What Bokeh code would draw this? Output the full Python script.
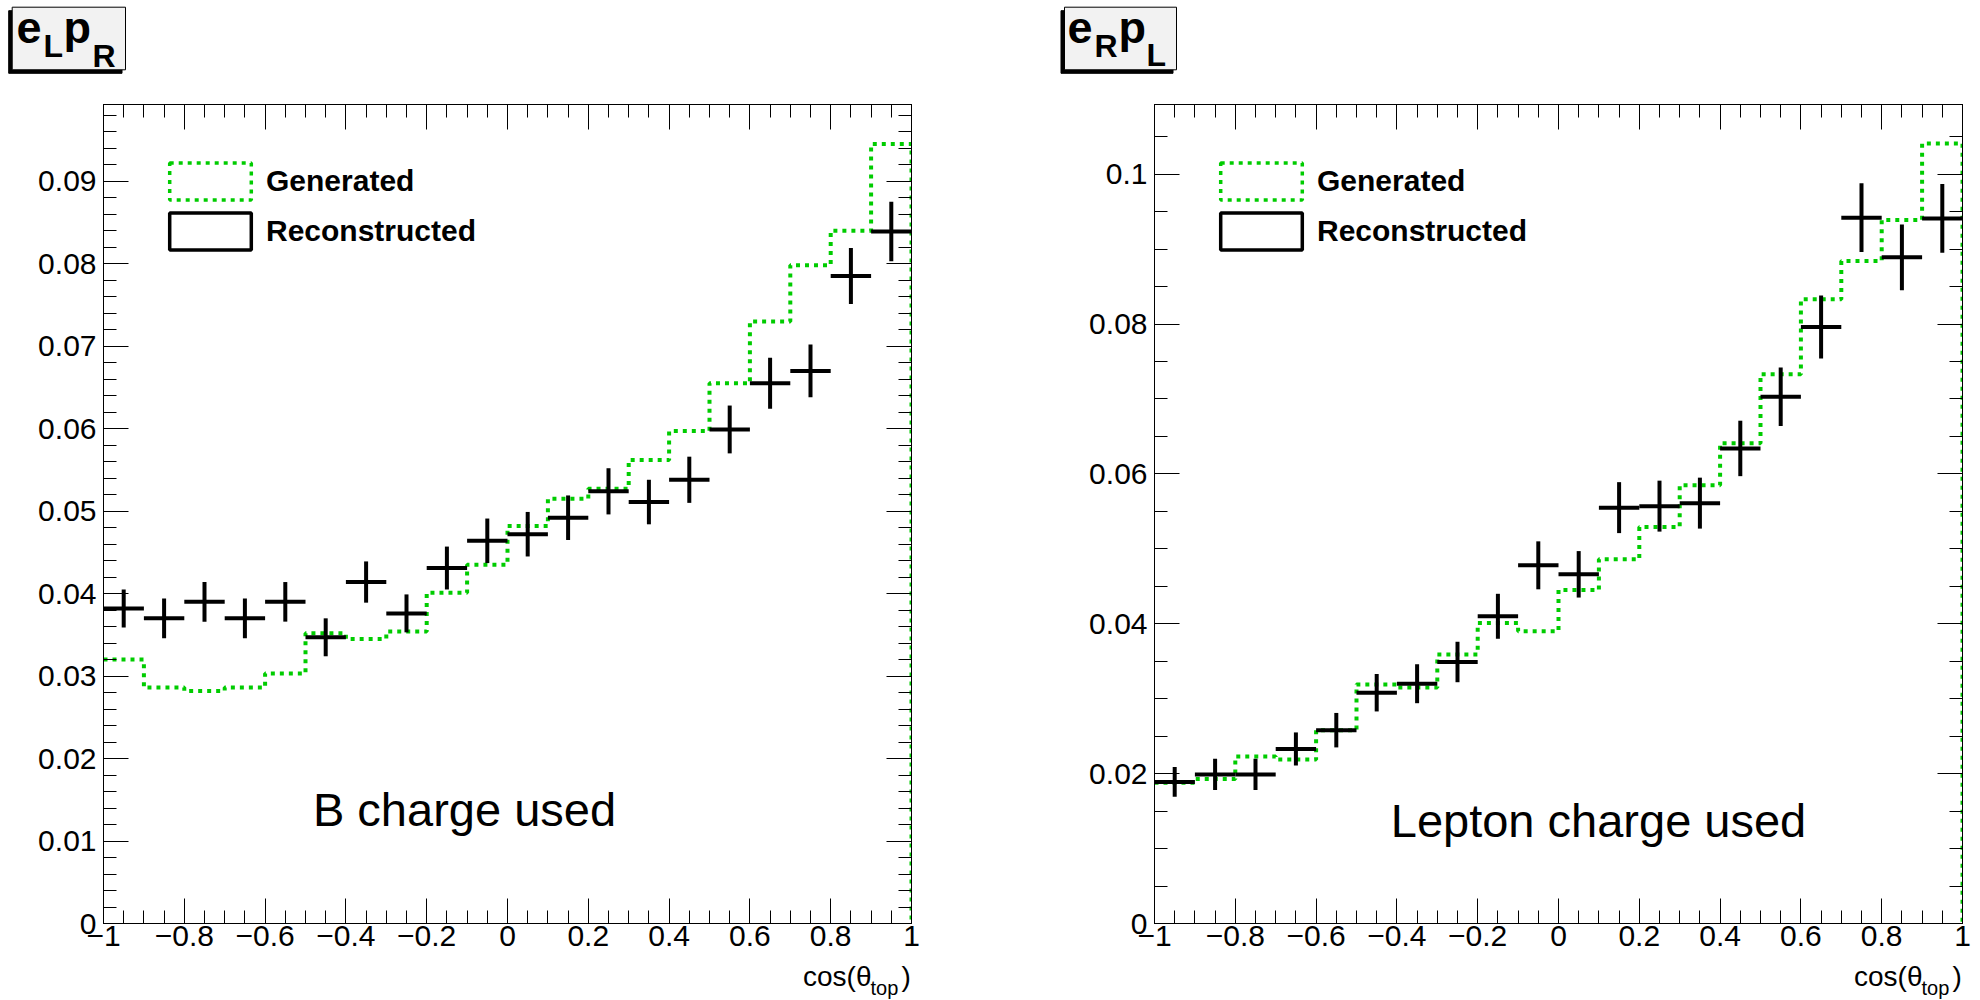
import numpy as np
from bokeh.plotting import figure
from bokeh.models import (Range1d, LinearAxis, FixedTicker, CustomJSTickFormatter, Label,
                          Legend, LegendItem, ColumnDataSource)
from bokeh.layouts import row, column
from bokeh.embed import file_html
from bokeh.resources import INLINE

# ---------------- data ----------------
bin_edges = [-1.0, -0.9, -0.8, -0.7, -0.6, -0.5, -0.4, -0.3, -0.2, -0.1, 0.0,
             0.1, 0.2, 0.3, 0.4, 0.5, 0.6, 0.7, 0.8, 0.9, 1.0]

# left panel: e_L p_R, B charge used
gen_B = [0.0320, 0.0286, 0.0282, 0.0286, 0.0303, 0.0352, 0.0345, 0.0354, 0.0401, 0.0435,
         0.0482, 0.0515, 0.0527, 0.0562, 0.0597, 0.0655, 0.0730, 0.0798, 0.0840, 0.0945]
rec_B = [0.0382, 0.0370, 0.0390, 0.0370, 0.0390, 0.0347, 0.0414, 0.0376, 0.0431, 0.0464,
         0.0472, 0.0492, 0.0524, 0.0511, 0.0538, 0.0599, 0.0655, 0.0670, 0.0785, 0.0839]
err_B = [0.0023, 0.0024, 0.0024, 0.0024, 0.0024, 0.0023, 0.0025, 0.0023, 0.0026, 0.0027,
         0.0027, 0.0027, 0.0028, 0.0027, 0.0028, 0.0029, 0.0031, 0.0032, 0.0034, 0.0036]

# right panel: e_R p_L, lepton charge used
gen_L = [0.0188, 0.0193, 0.0223, 0.0219, 0.0258, 0.0319, 0.0315, 0.0359, 0.0401, 0.0390,
         0.0445, 0.0486, 0.0529, 0.0585, 0.0641, 0.0733, 0.0833, 0.0884, 0.0939, 0.1041]
rec_L = [0.0189, 0.0199, 0.0199, 0.0233, 0.0258, 0.0308, 0.0320, 0.0349, 0.0410, 0.0478,
         0.0466, 0.0555, 0.0557, 0.0561, 0.0634, 0.0703, 0.0796, 0.0942, 0.0889, 0.0941]
err_L = [0.0020, 0.0021, 0.0021, 0.0022, 0.0023, 0.0025, 0.0026, 0.0027, 0.0030, 0.0032,
         0.0031, 0.0034, 0.0034, 0.0034, 0.0037, 0.0039, 0.0042, 0.0046, 0.0044, 0.0046]

x_ticks = [-1, -0.8, -0.6, -0.4, -0.2, 0, 0.2, 0.4, 0.6, 0.8, 1]
x_tick_labels = ["\u22121", "\u22120.8", "\u22120.6", "\u22120.4", "\u22120.2", "0",
                 "0.2", "0.4", "0.6", "0.8", "1"]
y_ticks_B = [0, 0.01, 0.02, 0.03, 0.04, 0.05, 0.06, 0.07, 0.08, 0.09]
y_tick_labels_B = ["0", "0.01", "0.02", "0.03", "0.04", "0.05", "0.06", "0.07", "0.08", "0.09"]
y_ticks_L = [0, 0.02, 0.04, 0.06, 0.08, 0.1]
y_tick_labels_L = ["0", "0.02", "0.04", "0.06", "0.08", "0.1"]

GREEN = "#00cc00"
FONT = "Liberation Sans"
BASE_FIX = 0.35       # label baseline correction (fraction of font size)

# vertical layout (canvas pixels)
TITLE_H = 94
MAIN_TOP = TITLE_H
FRAME_TOP, FRAME_BOTTOM = 104, 923
CAP_TOP = 960
TOTAL_H = 1000


def label_formatter(ticks, labels):
    return CustomJSTickFormatter(args=dict(t=ticks, l=labels), code="""
        for (let i = 0; i < t.length; i++) { if (Math.abs(t[i] - tick) < 1e-9) return l[i]; }
        return '';
    """)


def style_axis(ax, labels=True):
    ax.axis_line_color = "black"
    ax.axis_line_width = 1
    ax.major_tick_line_color = "black"
    ax.minor_tick_line_color = "black"
    ax.major_tick_line_width = 1
    ax.minor_tick_line_width = 1
    ax.major_tick_in = 25
    ax.major_tick_out = 0
    ax.minor_tick_in = 13
    ax.minor_tick_out = 0
    ax.major_label_text_font = FONT
    ax.major_label_text_color = "black"
    if labels:
        ax.major_label_text_font_size = "30px"
    else:
        ax.formatter = CustomJSTickFormatter(code="return '';")
        ax.major_label_text_font_size = "0px"
        ax.major_label_standoff = 0


def no_align(f):
    try:
        f.frame_align = False
    except Exception:
        pass


def strip(x0, width, y0, height):
    """A plain figure whose frame covers the whole strip, in canvas pixel coordinates."""
    f = figure(width=width, height=height, x_range=Range1d(x0, x0 + width),
               y_range=Range1d(y0 + height, y0), output_backend="svg", toolbar_location=None,
               x_axis_type=None, y_axis_type=None, min_border=0)
    f.min_border_left = f.min_border_right = f.min_border_top = f.min_border_bottom = 0
    f.outline_line_color = None
    f.grid.visible = False
    f.background_fill_color = "white"
    f.border_fill_color = "white"
    no_align(f)
    return f


def fixed(base, size_px):
    return base - BASE_FIX * size_px


def make_panel(x0, width, frame_left, ymax, gen, rec, err, y_ticks, y_labels, y_minor,
               title_box, title_texts, note, note_cx, note_base):
    frame_right = frame_left + 808
    # ---------- title strip ----------
    t = strip(x0, width, 0, TITLE_H)
    bx0, bx1, by0, by1 = title_box
    t.quad(left=[bx0 - 3.5], right=[bx1 - 3.5], top=[by0 + 3.5], bottom=[by1 + 3.5],
           fill_color="black", line_color="black", line_width=1)
    t.quad(left=[bx0], right=[bx1], top=[by0], bottom=[by1],
           fill_color="#f2f2f2", line_color="black", line_width=1)
    for (txt, cx, cy, size) in title_texts:
        t.add_layout(Label(x=cx, y=fixed(cy, size), text=txt, text_font=FONT,
                           text_font_style="bold", text_font_size=f"{size}px",
                           text_color="black", text_align="left",
                           text_baseline="alphabetic"))

    # ---------- main plot ----------
    p = figure(width=width, height=CAP_TOP - MAIN_TOP, x_range=Range1d(-1, 1),
               y_range=Range1d(0, ymax), output_backend="svg", toolbar_location=None,
               x_axis_type=None, y_axis_type=None)
    no_align(p)
    p.min_border_left = frame_left - x0
    p.min_border_right = x0 + width - frame_right
    p.min_border_top = FRAME_TOP - MAIN_TOP
    p.min_border_bottom = CAP_TOP - FRAME_BOTTOM
    p.outline_line_color = "black"
    p.outline_line_width = 1
    p.background_fill_color = "white"
    p.border_fill_color = "white"

    x_minor = [round(-1 + 0.05 * i, 3) for i in range(41)]
    xt = FixedTicker(ticks=x_ticks, minor_ticks=x_minor)
    yt = FixedTicker(ticks=y_ticks, minor_ticks=y_minor)

    xb = LinearAxis(ticker=xt, formatter=label_formatter(x_ticks, x_tick_labels))
    style_axis(xb)
    xb.major_label_standoff = 2
    xa = LinearAxis(ticker=xt)
    style_axis(xa, labels=False)
    yl = LinearAxis(ticker=yt, formatter=label_formatter(y_ticks, y_labels))
    style_axis(yl)
    yl.major_label_standoff = 7
    yr = LinearAxis(ticker=yt)
    style_axis(yr, labels=False)
    p.add_layout(xb, "below")
    p.add_layout(xa, "above")
    p.add_layout(yl, "left")
    p.add_layout(yr, "right")

    # generated histogram: dotted step line, dropping to zero at the upper edge
    xs, ys = [], []
    for i, v in enumerate(gen):
        xs += [bin_edges[i], bin_edges[i + 1]]
        ys += [v, v]
    xs.append(bin_edges[-1])
    ys.append(0.0)
    p.line(xs, ys, line_color=GREEN, line_width=4, line_dash="4 5", line_cap="butt")

    # reconstructed points with error bars
    centers = [(bin_edges[i] + bin_edges[i + 1]) / 2 for i in range(len(rec))]
    src = ColumnDataSource(dict(
        lo=bin_edges[:-1], hi=bin_edges[1:], c=centers, y=rec,
        ylo=[r - e for r, e in zip(rec, err)], yhi=[r + e for r, e in zip(rec, err)]))
    p.segment(x0="lo", x1="hi", y0="y", y1="y", source=src, line_color="black", line_width=4)
    p.segment(x0="c", x1="c", y0="ylo", y1="yhi", source=src, line_color="black", line_width=4)

    # legend with ROOT-like boxes
    nan = np.array([np.nan])
    r_gen = p.quad(left=nan, right=nan, top=nan, bottom=nan, fill_color=None,
                   line_color=GREEN, line_width=3.5, line_dash="4 5")
    r_rec = p.quad(left=nan, right=nan, top=nan, bottom=nan, fill_color=None,
                   line_color="black", line_width=3.5)
    leg = Legend(items=[LegendItem(label="Generated", renderers=[r_gen]),
                        LegendItem(label="Reconstructed", renderers=[r_rec])],
                 location=(56, 669), glyph_width=102, glyph_height=46, label_height=46,
                 spacing=4, padding=0, margin=0, label_standoff=5,
                 border_line_color=None, background_fill_alpha=0,
                 label_text_font=FONT, label_text_font_style="bold",
                 label_text_font_size="30px", label_text_color="black",
                 label_text_baseline="middle")
    p.add_layout(leg)

    p.add_layout(Label(x=note_cx - frame_left, y=FRAME_BOTTOM - fixed(note_base, 47),
                       x_units="screen", y_units="screen", text=note,
                       text_font=FONT, text_font_size="47px", text_color="black",
                       text_align="center", text_baseline="alphabetic"))

    # ---------- caption strip: x-axis title cos(theta_top) ----------
    c = strip(x0, width, CAP_TOP, TOTAL_H - CAP_TOP)
    for (txt, cx, cy, size, align) in [("cos(\u03b8", frame_right - 40, 986, 28, "right"),
                                       ("top", frame_right - 41, 994, 20, "left"),
                                       (")", frame_right - 10, 986, 28, "left")]:
        c.add_layout(Label(x=cx, y=fixed(cy, size), text=txt, text_font=FONT,
                           text_font_size=f"{size}px", text_color="black",
                           text_align=align, text_baseline="alphabetic"))
    return column(t, p, c, spacing=0)


y_minor_B = [round(0.002 * i, 4) for i in range(50)]
y_minor_L = [round(0.005 * i, 4) for i in range(22)]

col1 = make_panel(0, 1000, 103, 0.0993, gen_B, rec_B, err_B, y_ticks_B, y_tick_labels_B,
                  y_minor_B, (11.7, 125, 6.7, 69.3),
                  [("e", 16, 43, 45), ("L", 43, 57, 32),
                   ("p", 63, 43, 45), ("R", 92, 67, 32)],
                  "B charge used", 464, 825)
col2 = make_panel(1000, 980, 1154, 0.1093, gen_L, rec_L, err_L, y_ticks_L, y_tick_labels_L,
                  y_minor_L, (1064, 1176, 6.7, 69.3),
                  [("e", 1067, 43, 45), ("R", 1094, 57, 32),
                   ("p", 1118, 43, 45), ("L", 1146, 66, 32)],
                  "Lepton charge used", 1598, 836)

layout = row(col1, col2, spacing=0)
open("out.html", "w").write(file_html(layout, INLINE))
